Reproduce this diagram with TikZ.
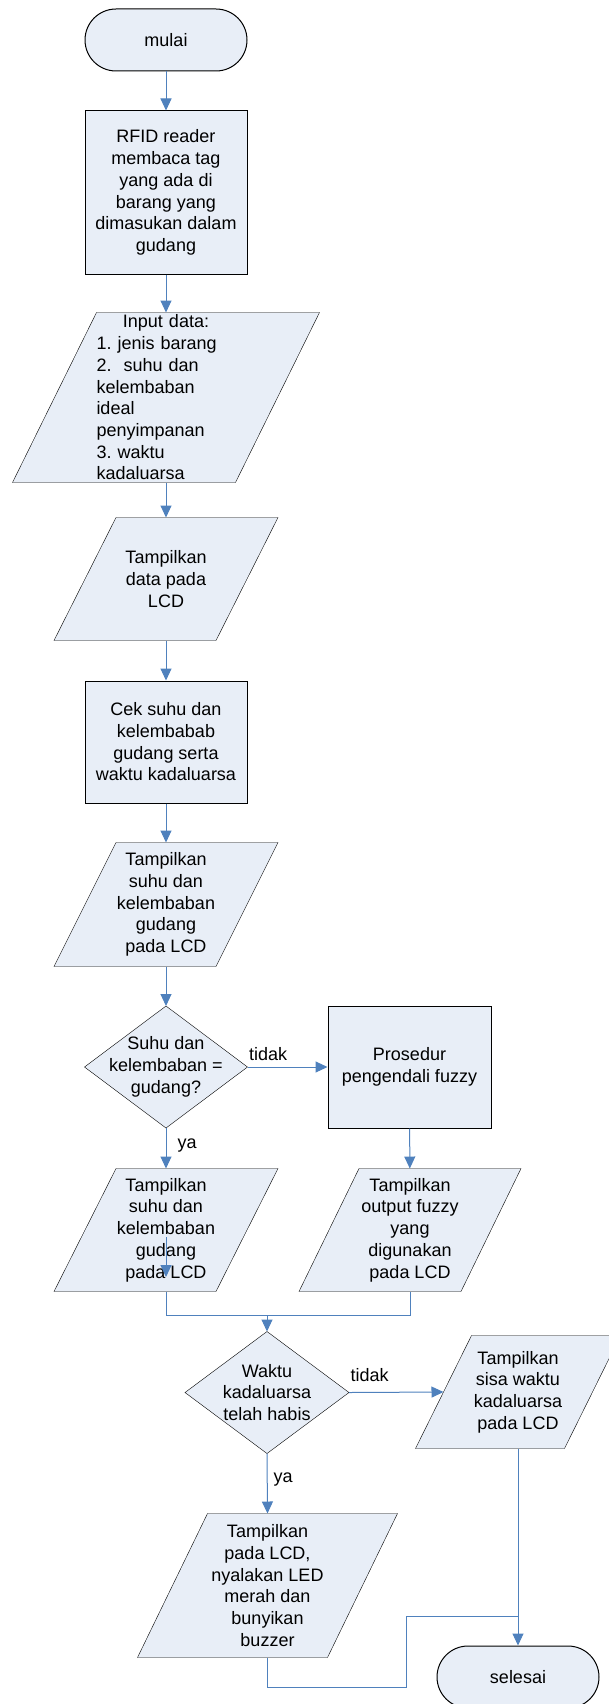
\documentclass[tikz,border=0pt]{standalone}
\usepackage{fontspec}
\setmainfont{Liberation Sans}
\usepackage{tikz}
\usetikzlibrary{arrows.meta,calc,backgrounds}
\frenchspacing
\definecolor{boxfill}{RGB}{232,238,247}
\definecolor{conn}{RGB}{79,129,189}
\tikzset{
  >={Triangle[length=12pt,width=11pt]},
  every picture/.style={x=1pt,y=-1pt,line width=1pt},
  txt/.style={font=\fontsize{18}{21.7}\selectfont,align=center,inner sep=0pt},
  term/.style={txt,draw=black,fill=boxfill,rounded corners=31pt,minimum width=162pt,minimum height=62pt},
  proc/.style={txt,draw=black,fill=boxfill,minimum width=162pt,minimum height=122pt},
  io/.style={txt,minimum width=161pt,minimum height=122pt},
  dec/.style={txt,minimum width=162pt,minimum height=121pt},
  shp/.style={draw=black,fill=boxfill,line join=miter},
  con/.style={draw=conn,line width=1pt},
  lbl/.style={font=\fontsize{18}{21.7}\selectfont,inner sep=0pt},
}
\begin{document}
\begin{tikzpicture}
\useasboundingbox (0,0) rectangle (608,1704);
\node[term] (mulai) at (166,40) {mulai};
\node[proc,minimum height=163pt] (rfid) at (166,192.5) {RFID reader\\membaca tag\\yang ada di\\barang yang\\dimasukan dalam\\gudang};
\node[io,minimum width=222pt,minimum height=169pt,text width=139pt,align=left] (inp) at (166,397.5)
  {\makebox[139pt]{Input data:}\\1. jenis barang\\2.\ \ suhu dan\\kelembaban\\ideal\\penyimpanan\\3. waktu\\kadaluarsa};
\node[io] (tdata) at (166,579) {Tampilkan\\data pada\\LCD};
\node[proc] (cek) at (166,742) {Cek suhu dan\\kelembabab\\gudang serta\\waktu kadaluarsa};
\node[io,minimum height=123pt] (tsuhu) at (166,904.5) {Tampilkan\\suhu dan\\kelembaban\\gudang\\pada LCD};
\node[dec] (dec1) at (166,1067) {Suhu dan\\kelembaban =\\gudang?};
\node[proc,minimum width=163pt] (fuzzy) at (409.5,1067) {Prosedur\\pengendali fuzzy};
\node[io] (tsuhu2) at (166,1230) {Tampilkan\\suhu dan\\kelembaban\\gudang\\pada LCD};
\node[io] (tfuzzy) at (410,1230) {Tampilkan\\output fuzzy\\yang\\digunakan\\pada LCD};
\node[dec,minimum width=163pt] (dec2) at (267,1392.5) {Waktu\\kadaluarsa\\telah habis};
\node[io,minimum width=148pt,minimum height=112pt] (tsisa) at (518,1392) {Tampilkan\\sisa waktu\\kadaluarsa\\pada LCD};
\node[io,minimum width=189pt,minimum height=143pt] (tbuzz) at (267.5,1585.5) {Tampilkan\\pada LCD,\\nyalakan LED\\merah dan\\bunyikan\\buzzer};
\node[term] (selesai) at (518,1677) {selesai};
\coordinate (mrg) at (267,1315);
\coordinate (jb) at (406,1687);
\coordinate (jr) at (518,1616);
\begin{scope}[on background layer]
\foreach \n/\s in {inp/42,tdata/31,tsuhu/31,tsuhu2/31,tfuzzy/30,tsisa/28,tbuzz/35}
  {\draw[shp] ($(\n.south west)+(-\s,0)$) -- ($(\n.north west)+(\s,0)$) -- ($(\n.north east)+(\s,0)$) -- ($(\n.south east)+(-\s,0)$) -- cycle;}
\foreach \n in {dec1,dec2}
  {\draw[shp] (\n.north) -- (\n.east) -- (\n.south) -- (\n.west) -- cycle;}
\end{scope}
\draw[con,->] (mulai) -- (rfid);
\draw[con,->] (rfid) -- (inp);
\draw[con,->] (inp) -- (tdata);
\draw[con,->] (tdata) -- (cek);
\draw[con,->] (cek) -- (tsuhu);
\draw[con,->] (tsuhu) -- (dec1);
\draw[con,->] (dec1.east) -- node[lbl,pos=0,anchor=south west,xshift=1pt,yshift=6pt]{tidak} (fuzzy.west);
\draw[con,->] (dec1.south) -- node[lbl,pos=0,anchor=north west,xshift=11pt,yshift=-10pt]{ya} (tsuhu2.north);
\draw[con,->] ([yshift=-7pt]tsuhu2.center) -- ([yshift=-47pt]tsuhu2.center);
\draw[con,->] (fuzzy) -- (tfuzzy);
\draw[con] (tsuhu2.south) |- (mrg) -| (tfuzzy.south);
\draw[con,->] (mrg) -- (dec2.north);
\draw[con,->] (dec2.east) -- node[lbl,pos=0,anchor=south west,xshift=1pt,yshift=10pt]{tidak} (tsisa.west);
\draw[con,->] (dec2.south) -- node[lbl,pos=0,anchor=north west,xshift=6pt,yshift=-19pt]{ya} (tbuzz.north);
\draw[con,->] (tsisa.south) -- (selesai.north);
\draw[con] (tbuzz.south) |- (jb) |- (jr);
\end{tikzpicture}
\end{document}
